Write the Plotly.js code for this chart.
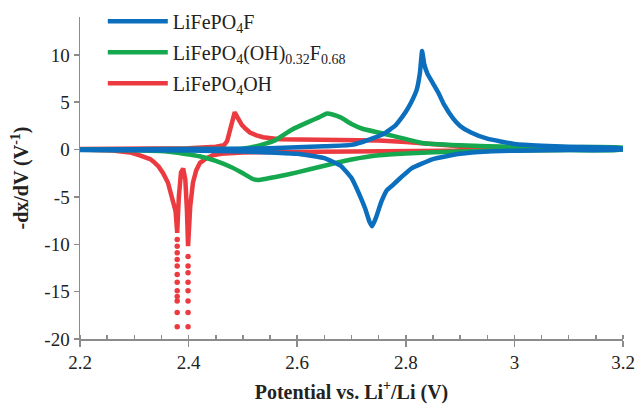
<!DOCTYPE html>
<html>
<head>
<meta charset="utf-8">
<script src="https://cdn.plot.ly/plotly-3.0.1.min.js"></script>
<style>html,body{margin:0;padding:0;background:#fff;}#chart{width:638px;height:405px;}</style>
</head>
<body>
<div id="chart"></div>
<script>
// LiFePO4OH (red)
const redChargeX = [2.20, 2.30, 2.40, 2.45, 2.465, 2.471, 2.477, 2.481, 2.485, 2.490, 2.498, 2.505, 2.513, 2.525, 2.537, 2.568, 2.60, 2.68, 2.75, 2.80, 2.85, 2.90, 2.95, 3.00, 3.10, 3.20];
const redChargeY = [0.05, 0.08, 0.15, 0.3, 0.45, 0.9, 2.2, 3.3, 3.95, 3.4, 2.6, 2.2, 1.8, 1.5, 1.3, 1.1, 1.08, 1.05, 0.95, 0.8, 0.55, 0.35, 0.2, 0.12, 0.06, 0.03];
const redDischX = [3.20, 3.10, 3.00, 2.90, 2.80, 2.70, 2.60, 2.50, 2.46, 2.445, 2.433, 2.421, 2.414, 2.408, 2.403, 2.400, 2.399, 2.397, 2.394, 2.390, 2.386, 2.382, 2.379, 2.376, 2.372, 2.369, 2.362, 2.353, 2.345, 2.336, 2.329, 2.31, 2.292, 2.26, 2.20];
const redDischY = [0.0, -0.02, -0.06, -0.1, -0.15, -0.2, -0.25, -0.3, -0.45, -0.6, -0.9, -1.4, -2.2, -3.5, -6.0, -10.2, -10.2, -6.5, -3.2, -2.0, -2.4, -5.0, -8.8, -6.5, -5.5, -5.0, -3.5, -2.5, -1.8, -1.3, -1.0, -0.6, -0.3, -0.1, 0.0];
const redSpikeX = [2.379, 2.379, 2.379, 2.379, 2.379, 2.379, 2.379, 2.379, 2.379, 2.379, 2.379, 2.379, 2.399, 2.399, 2.399, 2.399, 2.399, 2.399, 2.399, 2.399];
const redSpikeY = [-9.5, -10.2, -10.9, -11.6, -12.3, -13.2, -14.0, -14.9, -16.0, -17.2, -18.7, -15.5, -11.3, -12.3, -13.0, -14.0, -14.9, -16.0, -17.2, -18.7];

// LiFePO4F (blue)
const blueChargeX = [2.20, 2.40, 2.50, 2.55, 2.60, 2.65, 2.70, 2.72, 2.74, 2.76, 2.78, 2.79, 2.80, 2.81, 2.82, 2.826, 2.830, 2.834, 2.840, 2.850, 2.860, 2.870, 2.887, 2.90, 2.92, 2.95, 3.00, 3.05, 3.10, 3.20];
const blueChargeY = [0.02, 0.05, 0.1, 0.15, 0.25, 0.35, 0.5, 0.8, 1.2, 1.7, 2.5, 3.2, 4.0, 5.0, 6.3, 8.1, 10.4, 9.0, 8.0, 7.0, 6.0, 4.8, 3.3, 2.5, 1.8, 1.15, 0.6, 0.4, 0.3, 0.15];
const blueDischX = [3.20, 3.10, 3.00, 2.95, 2.90, 2.85, 2.81, 2.79, 2.775, 2.765, 2.755, 2.745, 2.738, 2.733, 2.725, 2.715, 2.70, 2.68, 2.65, 2.60, 2.55, 2.50, 2.40, 2.20];
const blueDischY = [0.0, -0.05, -0.12, -0.2, -0.45, -1.0, -2.0, -3.0, -3.8, -4.3, -5.5, -7.2, -8.1, -7.6, -6.2, -4.8, -3.0, -1.7, -0.9, -0.45, -0.3, -0.2, -0.1, -0.05];

// LiFePO4(OH)0.32F0.68 (green)
const greenChargeX = [2.20, 2.40, 2.50, 2.52, 2.54, 2.56, 2.59, 2.62, 2.64, 2.655, 2.665, 2.68, 2.70, 2.72, 2.75, 2.78, 2.83, 2.90, 2.95, 3.00, 3.10, 3.20];
const greenChargeY = [0.02, 0.05, 0.1, 0.3, 0.6, 1.0, 2.1, 2.9, 3.4, 3.8, 3.7, 3.4, 2.7, 2.2, 1.8, 1.4, 0.7, 0.45, 0.35, 0.3, 0.25, 0.2];
const greenDischX = [3.20, 3.10, 3.00, 2.90, 2.80, 2.75, 2.70, 2.65, 2.60, 2.56, 2.54, 2.53, 2.52, 2.50, 2.48, 2.45, 2.42, 2.36, 2.30, 2.20];
const greenDischY = [0.0, -0.05, -0.1, -0.2, -0.4, -0.6, -1.05, -1.7, -2.4, -2.9, -3.1, -3.2, -3.15, -2.5, -1.9, -1.2, -0.7, -0.2, -0.08, -0.03];

// axis ticks
const xTicks = [2.2, 2.4, 2.6, 2.8, 3.0, 3.2];
const xTickText = ['2.2', '2.4', '2.6', '2.8', '3', '3.2'];
const yTicks = [-20, -15, -10, -5, 0, 5, 10];
const yTickText = ['-20', '-15', '-10', '-5', '0', '5', '10'];

const names = ['LiFePO<sub>4</sub>F', 'LiFePO<sub>4</sub>(OH)<sub>0.32</sub>F<sub>0.68</sub>', 'LiFePO<sub>4</sub>OH'];
const colors = ['#0B6FBE', '#15A84F', '#EB3B40'];

const serif = 'Liberation Serif';

const traces = [
  {x: redChargeX.concat(redDischX), y: redChargeY.concat(redDischY), name: names[2], legendrank: 3, legendgroup: 'c',
   mode: 'lines', line: {color: colors[2], width: 4.5}, type: 'scatter'},
  {x: redSpikeX, y: redSpikeY, showlegend: false, legendgroup: 'c', mode: 'markers',
   marker: {color: colors[2], size: 5.5}, type: 'scatter'},
  {x: greenChargeX.concat(greenDischX), y: greenChargeY.concat(greenDischY), name: names[1], legendrank: 2, legendgroup: 'b',
   mode: 'lines', line: {color: colors[1], width: 4.5, shape: 'spline', smoothing: 0.5}, type: 'scatter'},
  {x: blueChargeX.concat(blueDischX), y: blueChargeY.concat(blueDischY), name: names[0], legendrank: 1, legendgroup: 'a',
   mode: 'lines', line: {color: colors[0], width: 4.5, shape: 'spline', smoothing: 0.4}, type: 'scatter'}
];

const axisColor = '#8c8c8c';
const layout = {
  width: 638, height: 405,
  font: {family: serif, color: '#222'},
  margin: {l: 80, r: 15, t: 17, b: 66, autoexpand: false},
  paper_bgcolor: '#fff', plot_bgcolor: '#fff',
  showlegend: true,
  legend: {x: 0.042, y: 1.047, xanchor: 'left', yanchor: 'top', bgcolor: 'rgba(0,0,0,0)',
           font: {family: serif, size: 20, color: '#222'}, itemwidth: 60,
           traceorder: 'grouped', tracegroupgap: 2},
  xaxis: {range: [2.2, 3.2], tickvals: xTicks, ticktext: xTickText, showgrid: false, zeroline: false,
          showline: true, linecolor: axisColor, linewidth: 1.5,
          ticks: 'outside', ticklen: 6, tickcolor: axisColor, tickwidth: 1.5,
          minor: {dtick: 0.05, tick0: 2.2, ticks: 'inside', ticklen: 4, tickcolor: axisColor, tickwidth: 1.5, showgrid: false},
          tickfont: {family: serif, size: 19, color: '#222'},
          title: {text: '<b>Potential vs. Li<sup>+</sup>/Li (V)</b>', font: {family: serif, size: 20, color: '#222'}, standoff: 12}},
  yaxis: {range: [-20, 14], tickvals: yTicks, ticktext: yTickText, showgrid: false, zeroline: false,
          showline: true, linecolor: axisColor, linewidth: 1.5,
          ticks: 'outside', ticklen: 5, tickcolor: axisColor, tickwidth: 1.5,
          tickfont: {family: serif, size: 19, color: '#222'},
          title: {text: '<b>-dx/dV (V<sup>-1</sup>)</b>', font: {family: serif, size: 20, color: '#222'}, standoff: 10}}
};

Plotly.newPlot('chart', traces, layout, {staticPlot: true, displayModeBar: false});
</script>
</body>
</html>
